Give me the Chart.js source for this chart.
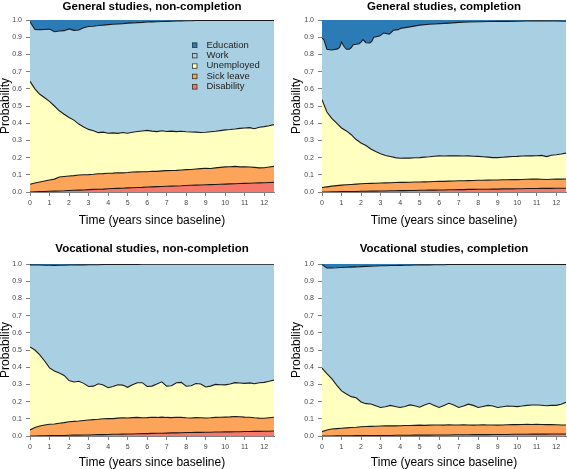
<!DOCTYPE html>
<html>
<head>
<meta charset="utf-8">
<title>Labour market states over time</title>
<script src="https://cdn.jsdelivr.net/npm/chart.js@4.4.0/dist/chart.umd.min.js"></script>
<style>
    html, body { margin: 0; padding: 0; background: #fff; }
    body { width: 567px; height: 469px; position: relative; overflow: hidden; }
    canvas { position: absolute; }
</style>
</head>
<body>
<canvas id="p1" width="283" height="234" style="left:0;top:0"></canvas>
<canvas id="p2" width="284" height="234" style="left:283px;top:0"></canvas>
<canvas id="p3" width="283" height="234" style="left:0;top:235px"></canvas>
<canvas id="p4" width="284" height="234" style="left:283px;top:235px"></canvas>
<script>
// 상태 (범례 순서, 위에서 아래로)
const states = ['Education', 'Work', 'Unemployed', 'Sick leave', 'Disability'];
const stateColors = ['#2b7bb7', '#a9cfe3', '#ffffc0', '#fca55a', '#f7786a'];

// 눈금
const xTicks = [0, 1, 2, 3, 4, 5, 6, 7, 8, 9, 10, 11, 12];
const yTicks = [0, 0.1, 0.2, 0.3, 0.4, 0.5, 0.6, 0.7, 0.8, 0.9, 1.0];

// 시간 (기준 시점 이후 연수)
const times = [
    0, 0.25, 0.5, 0.75, 1, 1.25, 1.5, 1.75, 2, 2.25,
    2.5, 2.75, 3, 3.25, 3.5, 3.75, 4, 4.25, 4.5, 4.75,
    5, 5.25, 5.5, 5.75, 6, 6.25, 6.5, 6.75, 7, 7.25,
    7.5, 7.75, 8, 8.25, 8.5, 8.75, 9, 9.25, 9.5, 9.75,
    10, 10.25, 10.5, 10.75, 11, 11.25, 11.5, 11.75, 12, 12.25,
    12.5
];
const eduTimes = [0, 12.5];
const eduTop = [1, 1];

// 누적 경계값: 각 상태 영역의 윗선
// General studies, non-completion
const gnDisab = [
    0, 0.001, 0.002, 0.003, 0.004, 0.005, 0.006, 0.007, 0.009, 0.01,
    0.011, 0.012, 0.014, 0.015, 0.016, 0.017, 0.019, 0.02, 0.021, 0.022,
    0.024, 0.025, 0.026, 0.027, 0.029, 0.03, 0.031, 0.032, 0.033, 0.034,
    0.035, 0.036, 0.038, 0.039, 0.04, 0.041, 0.042, 0.043, 0.044, 0.045,
    0.046, 0.047, 0.048, 0.049, 0.05, 0.051, 0.052, 0.053, 0.054, 0.055,
    0.056
];
const gnSick = [
    0.045, 0.052, 0.058, 0.064, 0.07, 0.075, 0.087, 0.09, 0.093, 0.095,
    0.099, 0.1, 0.101, 0.103, 0.106, 0.107, 0.109, 0.11, 0.112, 0.111,
    0.113, 0.116, 0.117, 0.118, 0.118, 0.121, 0.12, 0.123, 0.124, 0.125,
    0.126, 0.128, 0.13, 0.131, 0.134, 0.136, 0.138, 0.137, 0.14, 0.143,
    0.146, 0.147, 0.149, 0.146, 0.147, 0.145, 0.143, 0.14, 0.141, 0.145,
    0.149
];
const gnUnemp = [
    0.643, 0.6, 0.568, 0.548, 0.527, 0.5, 0.472, 0.452, 0.433, 0.418,
    0.395, 0.378, 0.364, 0.356, 0.345, 0.348, 0.342, 0.344, 0.341, 0.346,
    0.342, 0.347, 0.352, 0.355, 0.358, 0.354, 0.351, 0.356, 0.352, 0.354,
    0.351, 0.353, 0.35, 0.349, 0.348, 0.346, 0.347, 0.35, 0.353, 0.357,
    0.361, 0.363, 0.366, 0.37, 0.372, 0.374, 0.368, 0.376, 0.38, 0.385,
    0.392
];
const gnWork = [
    0.99, 0.945, 0.944, 0.945, 0.947, 0.932, 0.936, 0.938, 0.948, 0.94,
    0.942, 0.955, 0.962, 0.964, 0.968, 0.97, 0.973, 0.975, 0.977, 0.979,
    0.982, 0.983, 0.985, 0.986, 0.988, 0.989, 0.99, 0.991, 0.992, 0.993,
    0.994, 0.995, 0.996, 0.996, 0.997, 0.997, 0.997, 0.998, 0.998, 0.998,
    0.998, 0.998, 0.998, 0.998, 0.998, 0.998, 0.998, 0.998, 0.998, 0.998,
    0.998
];

// General studies, completion
const gcDisab = [
    0, 0, 0.001, 0.001, 0.002, 0.002, 0.003, 0.003, 0.004, 0.004,
    0.005, 0.005, 0.006, 0.006, 0.007, 0.007, 0.008, 0.008, 0.009, 0.009,
    0.01, 0.01, 0.011, 0.011, 0.012, 0.012, 0.013, 0.013, 0.014, 0.014,
    0.015, 0.015, 0.016, 0.016, 0.016, 0.017, 0.017, 0.018, 0.018, 0.018,
    0.019, 0.019, 0.02, 0.02, 0.02, 0.021, 0.021, 0.021, 0.022, 0.022,
    0.022
];
const gcSick = [
    0.026, 0.03, 0.034, 0.037, 0.04, 0.042, 0.044, 0.046, 0.048, 0.049,
    0.05, 0.051, 0.052, 0.053, 0.054, 0.055, 0.056, 0.056, 0.057, 0.058,
    0.058, 0.059, 0.06, 0.061, 0.062, 0.062, 0.063, 0.064, 0.065, 0.065,
    0.066, 0.067, 0.068, 0.068, 0.069, 0.07, 0.07, 0.071, 0.071, 0.072,
    0.072, 0.073, 0.074, 0.075, 0.075, 0.074, 0.073, 0.074, 0.075, 0.075,
    0.076
];
const gcUnemp = [
    0.537, 0.465, 0.428, 0.4, 0.372, 0.355, 0.333, 0.305, 0.285, 0.27,
    0.25, 0.235, 0.222, 0.212, 0.206, 0.2, 0.196, 0.198, 0.197, 0.199,
    0.2, 0.203, 0.205, 0.208, 0.21, 0.209, 0.211, 0.21, 0.211, 0.209,
    0.21, 0.208, 0.207, 0.205, 0.203, 0.2, 0.2, 0.202, 0.204, 0.206,
    0.207, 0.209, 0.211, 0.21, 0.211, 0.213, 0.206, 0.214, 0.217, 0.221,
    0.226
];
// 교육 경계선은 톱니 모양이라 더 촘촘한 시간값 사용
const gcWorkTimes = [
    0, 0.1, 0.25, 0.5, 0.8, 0.9, 1.0, 1.1, 1.25, 1.4,
    1.5, 1.6, 1.9, 2.0, 2.1, 2.25, 2.45, 2.55, 2.65, 2.95,
    3.05, 3.15, 3.45, 3.55, 3.65, 3.9, 4.0, 4.1, 4.5, 5,
    5.5, 6, 6.5, 7, 7.5, 8, 8.5, 9, 9.5, 10,
    10.5, 11, 11.5, 12, 12.5
];
const gcWork = [
    0.895, 0.885, 0.83, 0.826, 0.832, 0.84, 0.872, 0.85, 0.83, 0.83,
    0.84, 0.856, 0.862, 0.872, 0.886, 0.868, 0.866, 0.875, 0.9, 0.907,
    0.915, 0.924, 0.918, 0.928, 0.94, 0.944, 0.95, 0.953, 0.96, 0.97,
    0.975, 0.979, 0.982, 0.986, 0.988, 0.99, 0.991, 0.992, 0.992, 0.993,
    0.994, 0.995, 0.995, 0.994, 0.993
];

// Vocational studies, non-completion
const vnDisab = [
    0, 0, 0.001, 0.001, 0.002, 0.002, 0.003, 0.003, 0.004, 0.005,
    0.005, 0.006, 0.006, 0.007, 0.008, 0.008, 0.009, 0.01, 0.01, 0.011,
    0.012, 0.012, 0.013, 0.014, 0.014, 0.015, 0.016, 0.016, 0.017, 0.018,
    0.018, 0.019, 0.02, 0.02, 0.021, 0.021, 0.022, 0.022, 0.023, 0.023,
    0.024, 0.024, 0.025, 0.025, 0.026, 0.026, 0.027, 0.027, 0.028, 0.028,
    0.029
];
const vnSick = [
    0.035, 0.05, 0.058, 0.064, 0.068, 0.07, 0.074, 0.078, 0.083, 0.085,
    0.087, 0.09, 0.093, 0.095, 0.097, 0.1, 0.102, 0.101, 0.104, 0.106,
    0.105, 0.107, 0.108, 0.106, 0.107, 0.109, 0.108, 0.11, 0.108, 0.107,
    0.109, 0.108, 0.106, 0.105, 0.107, 0.106, 0.105, 0.106, 0.108, 0.109,
    0.11, 0.111, 0.113, 0.112, 0.11, 0.109, 0.106, 0.104, 0.103, 0.106,
    0.109
];
const vnUnemp = [
    0.518, 0.5, 0.472, 0.436, 0.396, 0.378, 0.366, 0.352, 0.322, 0.314,
    0.318, 0.306, 0.288, 0.29, 0.304, 0.296, 0.281, 0.288, 0.298, 0.296,
    0.283, 0.298, 0.31, 0.31, 0.288, 0.29, 0.302, 0.315, 0.29, 0.292,
    0.31, 0.312, 0.289, 0.292, 0.305, 0.302, 0.285, 0.29, 0.3, 0.298,
    0.297, 0.302, 0.31, 0.308, 0.306, 0.309, 0.304, 0.31, 0.312, 0.318,
    0.325
];
const vnWork = [
    0.995, 0.994, 0.994, 0.993, 0.993, 0.992, 0.993, 0.993, 0.994, 0.994,
    0.995, 0.995, 0.996, 0.996, 0.996, 0.997, 0.997, 0.997, 0.997, 0.998,
    0.998, 0.998, 0.998, 0.999, 0.999, 0.999, 0.999, 0.999, 0.999, 0.999,
    0.999, 0.999, 0.999, 0.999, 0.999, 0.999, 0.999, 0.999, 0.999, 0.999,
    0.999, 0.999, 0.999, 0.999, 0.999, 0.999, 0.999, 0.999, 0.999, 0.999,
    0.999
];

// Vocational studies, completion
const vcDisab = [
    0, 0, 0, 0.001, 0.001, 0.001, 0.001, 0.002, 0.002, 0.002,
    0.002, 0.003, 0.003, 0.003, 0.003, 0.004, 0.004, 0.004, 0.004, 0.005,
    0.005, 0.005, 0.005, 0.006, 0.006, 0.006, 0.006, 0.007, 0.007, 0.007,
    0.007, 0.008, 0.008, 0.008, 0.008, 0.009, 0.009, 0.009, 0.009, 0.01,
    0.01, 0.01, 0.01, 0.011, 0.011, 0.011, 0.011, 0.012, 0.012, 0.012,
    0.012
];
const vcSick = [
    0.025, 0.035, 0.041, 0.043, 0.045, 0.047, 0.049, 0.051, 0.054, 0.055,
    0.056, 0.057, 0.058, 0.059, 0.06, 0.059, 0.06, 0.061, 0.061, 0.062,
    0.063, 0.062, 0.063, 0.064, 0.064, 0.063, 0.065, 0.064, 0.064, 0.065,
    0.064, 0.063, 0.064, 0.065, 0.064, 0.064, 0.063, 0.064, 0.065, 0.066,
    0.066, 0.067, 0.068, 0.067, 0.068, 0.067, 0.066, 0.066, 0.065, 0.064,
    0.064
];
const vcUnemp = [
    0.394, 0.362, 0.334, 0.296, 0.262, 0.244, 0.229, 0.222, 0.198, 0.188,
    0.186, 0.176, 0.166, 0.17, 0.178, 0.172, 0.166, 0.172, 0.181, 0.176,
    0.167, 0.18, 0.19, 0.178, 0.166, 0.178, 0.19, 0.18, 0.166, 0.175,
    0.185, 0.178, 0.166, 0.172, 0.178, 0.174, 0.166, 0.17, 0.174, 0.173,
    0.171, 0.174, 0.178, 0.18, 0.18, 0.179, 0.176, 0.178, 0.178, 0.185,
    0.196
];
const vcWork = [
    0.996, 0.977, 0.977, 0.978, 0.98, 0.981, 0.982, 0.983, 0.985, 0.986,
    0.987, 0.988, 0.99, 0.99, 0.991, 0.991, 0.992, 0.993, 0.993, 0.994,
    0.995, 0.995, 0.995, 0.996, 0.996, 0.996, 0.997, 0.997, 0.997, 0.997,
    0.998, 0.998, 0.998, 0.998, 0.998, 0.998, 0.998, 0.998, 0.998, 0.998,
    0.998, 0.998, 0.998, 0.998, 0.998, 0.998, 0.998, 0.998, 0.998, 0.998,
    0.998
];

Chart.defaults.font.family = "'Liberation Sans', Arial, sans-serif";

// 패널 1 안쪽 범례
const boxLegend = {
    id: 'boxLegend',
    afterDraw(chart) {
        const ctx = chart.ctx;
        const a = chart.chartArea;
        const bx = a.left + 162;
        ctx.save();
        ctx.font = "9.5px 'Liberation Sans', Arial, sans-serif";
        ctx.textBaseline = 'middle';
        ctx.textAlign = 'left';
        states.forEach((name, i) => {
            const cy = a.top + 25 + i * 10.4;
            ctx.fillStyle = stateColors[i];
            ctx.fillRect(bx, cy - 2.5, 5, 5);
            ctx.strokeStyle = '#333';
            ctx.lineWidth = 0.8;
            ctx.strokeRect(bx + 0.5, cy - 2, 4.5, 4.5);
            ctx.fillStyle = '#222';
            ctx.fillText(name, bx + 14.5, cy);
        });
        ctx.restore();
    }
};

function toPoints(ts, vs) {
    return vs.map((v, i) => ({ x: ts[i], y: v }));
}

// 누적 영역 데이터셋 (아래에서 위로)
function buildDatasets(disab, sick, unemp, work, workTimes) {
    const line = { borderColor: '#1a1a1a', borderWidth: 1.1, pointRadius: 0, tension: 0 };
    return [
        Object.assign({ label: states[4], data: toPoints(times, disab), backgroundColor: stateColors[4], fill: 'origin' }, line),
        Object.assign({ label: states[3], data: toPoints(times, sick), backgroundColor: stateColors[3], fill: '-1' }, line),
        Object.assign({ label: states[2], data: toPoints(times, unemp), backgroundColor: stateColors[2], fill: '-1' }, line),
        Object.assign({ label: states[1], data: toPoints(workTimes || times, work), backgroundColor: stateColors[1], fill: '-1' }, line),
        { label: states[0], data: toPoints(eduTimes, eduTop), backgroundColor: stateColors[0], borderWidth: 0, pointRadius: 0, fill: '-1' }
    ];
}

// 패널 그리기
function drawPanel(id, title, datasets, p, plugins) {
    const ctx = document.getElementById(id).getContext('2d');
    const axisGrey = '#808080';
    return new Chart(ctx, {
        type: 'line',
        data: { datasets: datasets },
        plugins: plugins || [],
        options: {
            responsive: false,
            animation: false,
            events: [],
            layout: { padding: { left: 0, right: p.padRight, top: 0, bottom: 0 } },
            plugins: {
                legend: { display: false },
                tooltip: { enabled: false },
                filler: { drawTime: 'beforeDatasetsDraw' },
                title: {
                    display: true,
                    text: title,
                    fullSize: false,
                    color: '#000',
                    font: { size: 11.5, weight: 'bold', lineHeight: 1.2 },
                    padding: { top: p.titleTop, bottom: p.titleBottom }
                }
            },
            scales: {
                x: {
                    type: 'linear',
                    min: 0,
                    max: 12.5,
                    afterBuildTicks: function(s) { s.ticks = xTicks.map(v => ({ value: v })); },
                    afterFit: function(s) { s.height = p.xAxisH; },
                    grid: { drawOnChartArea: false, drawTicks: true, tickLength: 4, color: axisGrey },
                    border: { display: true, color: axisGrey },
                    ticks: {
                        autoSkip: false, maxRotation: 0, padding: 3,
                        color: '#444', font: { size: 7 },
                        callback: function(v) { return String(v); }
                    },
                    title: {
                        display: true,
                        text: 'Time (years since baseline)',
                        color: '#000',
                        font: { size: 12, lineHeight: 1 },
                        padding: { top: 0, bottom: p.xTitlePad }
                    }
                },
                y: {
                    min: 0,
                    max: 1,
                    afterBuildTicks: function(s) { s.ticks = yTicks.map(v => ({ value: v })); },
                    afterFit: function(s) { s.width = p.yAxisW; },
                    grid: { drawOnChartArea: false, drawTicks: true, tickLength: 4, color: axisGrey },
                    border: { display: true, color: axisGrey },
                    ticks: {
                        autoSkip: false, padding: 4,
                        color: '#444', font: { size: 7 },
                        callback: function(v) { return v.toFixed(1); }
                    },
                    title: {
                        display: true,
                        text: 'Probability',
                        color: '#000',
                        font: { size: 12, lineHeight: 1 },
                        padding: { top: p.yTitlePad, bottom: 0 }
                    }
                }
            }
        }
    });
}

const topRow = { titleTop: 0, titleBottom: 6.2, xAxisH: 42, xTitlePad: 7.5 };
const bottomRow = { titleTop: 6.8, titleBottom: 8.4, xAxisH: 33, xTitlePad: 0 };

drawPanel('p1', 'General studies, non-completion',
    buildDatasets(gnDisab, gnSick, gnUnemp, gnWork),
    Object.assign({ yAxisW: 30, padRight: 9, yTitlePad: 0 }, topRow), [boxLegend]);
drawPanel('p2', 'General studies, completion',
    buildDatasets(gcDisab, gcSick, gcUnemp, gcWork, gcWorkTimes),
    Object.assign({ yAxisW: 39, padRight: 1, yTitlePad: 8 }, topRow));
drawPanel('p3', 'Vocational studies, non-completion',
    buildDatasets(vnDisab, vnSick, vnUnemp, vnWork),
    Object.assign({ yAxisW: 30, padRight: 9, yTitlePad: 0 }, bottomRow));
drawPanel('p4', 'Vocational studies, completion',
    buildDatasets(vcDisab, vcSick, vcUnemp, vcWork),
    Object.assign({ yAxisW: 39, padRight: 1, yTitlePad: 8 }, bottomRow));
</script>
</body>
</html>
